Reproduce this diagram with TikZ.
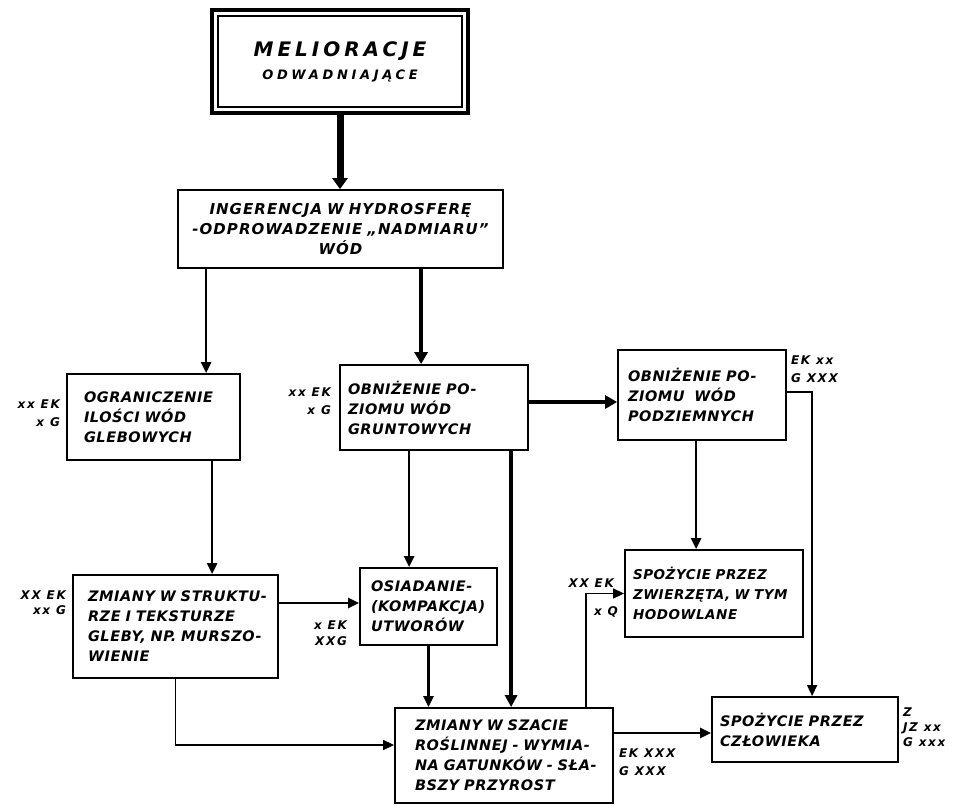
\documentclass[tikz,border=0pt]{standalone}
\usepackage{fontspec}
\setmainfont{DejaVu Sans}
\newfontfamily\handf{DejaVu Sans}[BoldFont={DejaVu Sans Bold}, ItalicFont={DejaVu Sans Oblique}, BoldItalicFont={DejaVu Sans Bold Oblique}, LetterSpace=4]
\usetikzlibrary{arrows.meta}
\hyphenpenalty=10000
\exhyphenpenalty=10000
\tikzset{
  box/.style={draw=black, line width=1.8pt, inner ysep=0pt, inner xsep=10pt, align=left,
    font=\handf\bfseries\itshape\fontsize{14.5}{20}\selectfont},
  lab/.style={inner sep=0pt, align=left,
    font=\handf\bfseries\itshape\fontsize{12}{18}\selectfont\addfontfeatures{LetterSpace=14}},
  meltarrow/.style={line width=7pt, -{Triangle[length=11pt,width=15pt]}},
  thickconn/.style={line width=4.5pt, -{Triangle[length=12pt,width=13pt]}},
  midconn/.style={line width=3.5pt, -{Triangle[length=12pt,width=12pt]}},
  conn/.style={line width=2.5pt, -{Triangle[length=11pt,width=10pt]}},
  thinconn/.style={line width=1.6pt, -{Triangle[length=11pt,width=10pt]}}
}
\begin{document}
\begin{tikzpicture}[x=1pt,y=-1pt]
\useasboundingbox[fill=white] (0,0) rectangle (962,809);

% boxes
\node[box, line width=4pt, align=center, minimum width=256pt, minimum height=103pt, text width=236pt] (mel) at (340,61.5)
  {{\fontsize{20}{24}\selectfont\addfontfeatures{LetterSpace=20}MELIORACJE}\\[3pt]{\fontsize{13}{16}\selectfont\addfontfeatures{LetterSpace=28}ODWADNIAJĄCE}};
\draw[line width=1.6pt] ([shift={(8pt,-8pt)}]mel.north west) rectangle ([shift={(-8pt,8pt)}]mel.south east);

\node[box, align=center, text width=305pt, minimum height=78pt, font=\handf\bfseries\itshape\fontsize{15}{20}\selectfont\addfontfeatures{LetterSpace=7}] (ing) at (340.5,229)
  {INGERENCJA~W~HYDROSFERĘ\\-ODPROWADZENIE~„NADMIARU”\\WÓD};

\node[box, inner xsep=17pt, text width=139pt, minimum height=86pt] (ogr) at (153.5,417)
  {OGRANICZENIE\\ILOŚCI~WÓD\\GLEBOWYCH};
\node[box, inner xsep=8pt, text width=172pt, minimum height=85pt] (obn) at (434,407.5)
  {OBNIŻENIE~PO-\\ZIOMU~WÓD\\GRUNTOWYCH};
\node[box, inner xsep=10pt, text width=148pt, minimum height=90pt] (pod) at (702,395)
  {OBNIŻENIE~PO-\\ZIOMU~~WÓD\\PODZIEMNYCH};
\node[box, inner xsep=15pt, text width=175pt, minimum height=103pt] (zst) at (175.5,626.5)
  {ZMIANY~W~STRUKTU-\\RZE~I~TEKSTURZE\\GLEBY,~NP.~MURSZO-\\WIENIE};
\node[box, inner xsep=11pt, text width=115pt, minimum height=77pt] (osi) at (428.5,606.5)
  {OSIADANIE-\\(KOMPAKCJA)\\UTWORÓW};
\node[box, inner xsep=8pt, text width=162pt, minimum height=87pt, font=\handf\bfseries\itshape\fontsize{13.5}{20}\selectfont] (zwi) at (714,593.5)
  {SPOŻYCIE~PRZEZ\\ZWIERZĘTA,~W~TYM\\HODOWLANE};
\node[box, inner xsep=20pt, text width=178pt, minimum height=95pt] (zsz) at (504,755.5)
  {ZMIANY~W~SZACIE\\ROŚLINNEJ~-~WYMIA-\\NA~GATUNKÓW~-~SŁA-\\BSZY~PRZYROST};
\node[box, inner xsep=8pt, text width=170pt, minimum height=65pt] (czl) at (805,729.5)
  {SPOŻYCIE~PRZEZ\\CZŁOWIEKA};

% labels
\node[lab, anchor=east, align=right] (lOgr) at ([xshift=-6pt,yshift=4pt]ogr.west) {xx~EK\\x~G};
\node[lab, anchor=east, align=right] (lObn) at ([xshift=-8pt,yshift=6.5pt]obn.west) {xx~EK\\x~G};
\node[lab, anchor=east, align=right] (lZst) at ([xshift=-6pt,yshift=24pt]zst.west) {XX~EK\\[-3pt]xx~G};
\node[lab, anchor=east, align=right] (lOsi) at ([xshift=-12pt,yshift=-27pt]osi.west) {x~EK\\[-2pt]XXG};
\node[lab, anchor=east] (lZwiA) at ([xshift=-10pt,yshift=10pt]zwi.west) {XX~EK};
\node[lab, anchor=east] (lZwiB) at ([xshift=-6pt,yshift=-18.5pt]zwi.west) {x~Q};
\node[lab, anchor=north west] (lPod) at ([xshift=4pt,yshift=-6pt]pod.north east) {EK~xx\\G~XXX};
\node[lab, anchor=west] (lZsz) at ([xshift=5pt,yshift=-6.5pt]zsz.east) {EK~XXX\\G~XXX};
\node[lab, anchor=west] (lCzl) at ([xshift=4pt,yshift=2.5pt]czl.east) {Z\\[-3pt]JZ~xx\\[-3pt]G~xxx};

% connectors
\draw[meltarrow] (mel.south) -- (mel.south |- ing.north);
\draw[conn] ([xshift=29pt]ing.south west) -- ([xshift=29pt]ing.south west |- ogr.north);
\draw[thickconn] ([xshift=244pt]ing.south west) -- ([xshift=244pt]ing.south west |- obn.north);
\draw[thickconn] ([yshift=5.5pt]obn.east) -- ([yshift=5.5pt]obn.east -| pod.west);
\draw[conn] ([xshift=146pt]ogr.south west) -- ([xshift=146pt]ogr.south west |- zst.north);
\draw[conn] ([xshift=70pt]obn.south west) -- ([xshift=70pt]obn.south west |- osi.north);
\draw[midconn] ([xshift=172pt]obn.south west) -- ([xshift=172pt]obn.south west |- zsz.north);
\draw[conn] ([yshift=23.5pt]zst.east) -- ([yshift=23.5pt]zst.east -| osi.west);
\draw[conn] (osi.south) -- (osi.south |- zsz.north);
\draw[thinconn] (zst.south) |- ([yshift=10.5pt]zsz.west);
\draw[thinconn] ([xshift=192pt]zsz.north west) |- (zwi.west);
\draw[conn] ([yshift=22.5pt]zsz.east) -- ([yshift=22.5pt]zsz.east -| czl.west);
\draw[conn] ([xshift=79pt]pod.south west) -- ([xshift=79pt]pod.south west |- zwi.north);
\draw[thinconn] ([yshift=3pt]pod.east) -| ([xshift=101pt]czl.north west);
\end{tikzpicture}
\end{document}
